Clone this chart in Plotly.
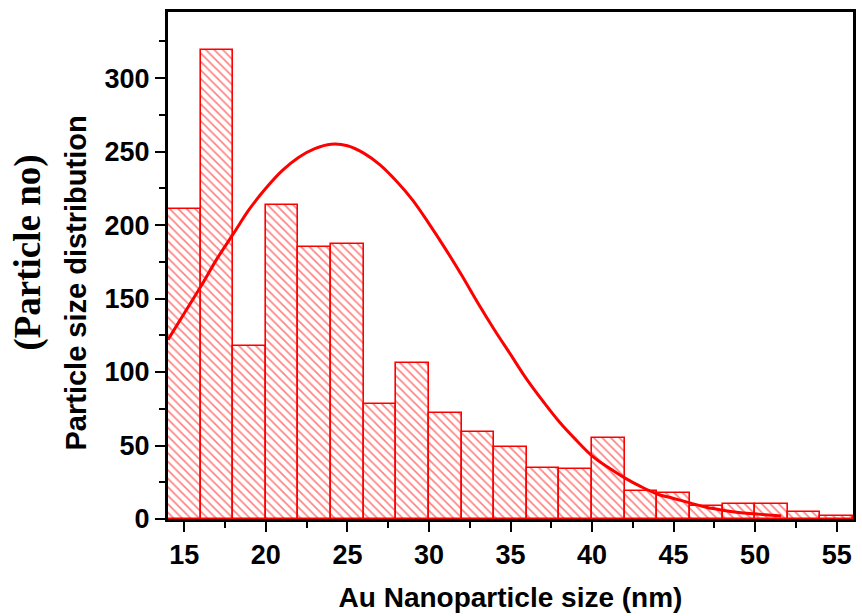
import plotly.graph_objects as go

# Histogram bins (left edge, nm) and counts
bin_left = [14, 16, 18, 20, 22, 24, 26, 28, 30, 32, 34, 36, 38, 40, 42, 44, 46, 48, 50, 52, 54]
counts = [211, 319, 118, 214, 185, 187, 78, 106, 72, 59, 49, 35, 34, 55, 19, 18, 9, 10, 10, 5, 2]
bin_width = 2

# Fitted distribution curve
fit_x = [14, 15, 16, 17, 18, 19, 20, 21, 22, 23, 24, 25, 26, 27, 28, 29, 30, 31, 32, 33,
         34, 35, 36, 37, 38, 39, 40, 41, 42, 43, 44, 45, 46, 47, 48, 49, 50, 51, 51.6]
fit_y = [122, 140, 158, 177, 194, 211, 225, 237, 246, 252, 255, 254, 249, 241, 230, 217, 201, 184, 166, 147,
         129, 112, 95, 80, 66, 54, 43, 35, 28, 22, 17, 14, 11, 8, 6, 4.5, 3.5, 2.5, 2]

RED = "#ff0000"
SANS = "Liberation Sans, Arial, sans-serif"

fig = go.Figure()
fig.add_trace(go.Bar(
    x=bin_left, y=counts, width=[bin_width] * len(bin_left), offset=0,
    marker=dict(color="white", line=dict(color=RED, width=1.6),
                pattern=dict(shape="\\", fgcolor=RED, bgcolor="white", size=6, solidity=0.27)),
    showlegend=False,
))
fig.add_trace(go.Scatter(
    x=fit_x, y=fit_y, mode="lines", line=dict(color=RED, width=3, shape="spline"),
    showlegend=False,
))

tickfont = dict(family=SANS, size=27, color="black", weight="bold")

fig.update_layout(
    width=862, height=616,
    margin=dict(l=168, r=6, t=12, b=97),
    paper_bgcolor="white", plot_bgcolor="white",
    bargap=0,
    xaxis=dict(
        range=[14, 56], tick0=15, dtick=5,
        ticks="outside", ticklen=10, tickwidth=2, tickcolor="black",
        minor=dict(dtick=2.5, tick0=15, ticks="outside", ticklen=6, tickwidth=2, tickcolor="black"),
        showline=True, linewidth=3, linecolor="black", mirror=True,
        showgrid=False, zeroline=False,
        tickfont=tickfont,
        title=dict(text="<b>Au Nanoparticle size (nm)</b>",
                   font=dict(family=SANS, size=28, color="black"),
                   standoff=18),
    ),
    yaxis=dict(
        range=[0, 345], tick0=0, dtick=50,
        ticks="outside", ticklen=10, tickwidth=2, tickcolor="black",
        minor=dict(dtick=25, tick0=0, ticks="outside", ticklen=6, tickwidth=2, tickcolor="black"),
        showline=True, linewidth=3, linecolor="black", mirror=True,
        showgrid=False, zeroline=False,
        tickfont=tickfont,
    ),
    annotations=[
        dict(text="<b>Particle size distribution</b>", textangle=-90,
             xref="paper", yref="paper", x=-0.135, y=(519 - 283) / 507,
             xanchor="center", yanchor="middle", showarrow=False,
             font=dict(family=SANS, size=29, color="black")),
        dict(text="<b>(Particle no)</b>", textangle=-90,
             xref="paper", yref="paper", x=-0.205, y=(519 - 253) / 507,
             xanchor="center", yanchor="middle", showarrow=False,
             font=dict(family="Liberation Serif, Times New Roman, serif", size=37, color="black")),
    ],
)

fig.write_html("out.html")
